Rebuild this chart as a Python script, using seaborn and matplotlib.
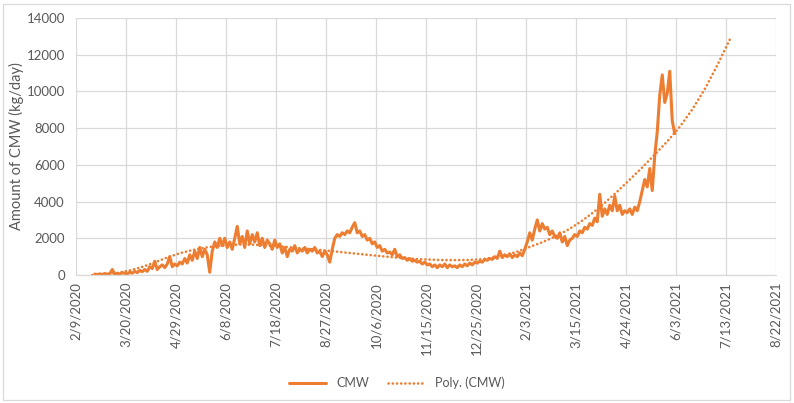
import numpy as np
import pandas as pd
import matplotlib
matplotlib.use("Agg")
import matplotlib.pyplot as plt
from matplotlib.patches import Rectangle
import seaborn as sns

# ---- data ----
cmw_start = "2020-02-24"
cmw_step_days = 2
cmw_values = [
    # Feb 24 - Mar 19, 2020
    50, 20, 60, 30, 80, 40, 60, 300, 50, 80, 60, 120, 90,
    # Mar 21 - Apr 28
    60, 150, 100, 200, 130, 250, 180, 300, 200, 450, 350, 750, 300, 450, 550, 400, 600, 1000, 450, 600,
    # Apr 30 - Jun 7
    500, 700, 600, 900, 650, 1100, 800, 1300, 900, 1500, 1000, 1400, 1100, 150, 1300, 1800, 1500, 2000, 1600, 2000,
    # Jun 9 - Jul 17
    1500, 1800, 1400, 2000, 2650, 1700, 2100, 1500, 2400, 1700, 2200, 1800, 2300, 1600, 2000, 1500, 1900, 1700, 1400, 1900,
    # Jul 19 - Aug 26
    1500, 1700, 1200, 1500, 1000, 1400, 1300, 1600, 1200, 1400, 1300, 1500, 1200, 1400, 1300, 1500, 1200, 1300, 1000, 1300,
    # Aug 28 - Oct 5
    1100, 700, 1400, 2000, 2200, 2100, 2300, 2200, 2400, 2300, 2600, 2850, 2300, 2400, 2100, 2200, 1900, 2000, 1700, 1800,
    # Oct 7 - Nov 14
    1500, 1600, 1300, 1400, 1200, 1250, 1100, 1400, 1000, 1100, 900, 950, 800, 900, 750, 800, 700, 750, 600, 700,
    # Nov 16 - Dec 24
    550, 600, 450, 550, 400, 550, 450, 600, 400, 550, 450, 500, 400, 550, 450, 600, 500, 650, 550, 700,
    # Dec 26 - Feb 2, 2021
    650, 750, 700, 850, 800, 900, 850, 1000, 900, 1300, 950, 1100, 1000, 1150, 950, 1100, 1000, 1200, 1050, 1400,
    # Feb 4 - Mar 14
    1800, 2300, 1900, 2500, 3000, 2400, 2800, 2500, 2600, 2200, 2400, 2100, 2000, 2300, 1800, 2100, 1600, 1900, 2000, 2200,
    # Mar 16 - Apr 23
    2100, 2400, 2300, 2600, 2500, 2800, 2700, 3100, 2900, 4400, 3200, 3600, 3300, 3800, 3500, 4300, 3500, 3800, 3300, 3500,
    # Apr 25 - Jun 2
    3400, 3600, 3300, 3700, 3500, 4000, 4600, 5200, 4800, 5800, 4600, 6500, 7800, 9800, 10900, 9400, 9900, 11100, 8400, 7700,
]

# Polynomial trendline (Poly. (CMW)), every 10 days
trend_start = "2020-02-22"
trend_step_days = 10
trend_values = [
    0, 45, 115, 250, 440, 685, 955, 1185, 1355, 1490, 1580, 1640, 1660, 1650,
    1615, 1560, 1500, 1440, 1380, 1315, 1240, 1170, 1100, 1035, 970, 915, 870,
    840, 815, 810, 815, 850, 935, 1075, 1275, 1525, 1785, 2080, 2440, 2865,
    3365, 3930, 4545, 5195, 5860, 6560, 7275, 8070, 9015, 10125, 11420, 12820,
]

x_ticks = pd.date_range("2020-02-09", "2021-08-22", freq="40D")
y_ticks = [0, 2000, 4000, 6000, 8000, 10000, 12000, 14000]

df = pd.DataFrame({
    "date": pd.date_range(cmw_start, periods=len(cmw_values), freq=f"{cmw_step_days}D"),
    "CMW": cmw_values,
})
trend = pd.DataFrame({
    "date": pd.date_range(trend_start, periods=len(trend_values), freq=f"{trend_step_days}D"),
    "trend": trend_values,
})

# ---- plot ----
sns.set_theme(style="whitegrid")
plt.rcParams["font.family"] = ["Lato", "DejaVu Sans"]

W, H = 794, 403
fig = plt.figure(figsize=(W / 100, H / 100), dpi=100)
ax = fig.add_axes([76 / W, 1 - 275 / H, 700 / W, 257 / H])

orange = "#ED7D31"
sns.lineplot(data=df, x="date", y="CMW", ax=ax, color=orange, linewidth=2.2,
             label="CMW", legend=False)
sns.lineplot(data=trend, x="date", y="trend", ax=ax, color=orange, linewidth=1.9,
             linestyle=(0, (0.05, 1.55)), dash_capstyle="round",
             label="Poly. (CMW)", legend=False)

ax.set_xlim(x_ticks[0], x_ticks[-1])
ax.set_ylim(0, 14000)
ax.set_xticks(x_ticks)
ax.set_xticklabels([f"{d.month}/{d.day}/{d.year}" for d in x_ticks], rotation=90)
ax.set_yticks(y_ticks)
ax.set_yticklabels([str(v) for v in y_ticks])
ax.tick_params(axis="both", length=0, labelsize=9.5, labelcolor="#595959")
ax.tick_params(axis="x", pad=5)
ax.tick_params(axis="y", pad=8)
ax.grid(True, color="#d9d9d9", linewidth=0.9)
ax.set_facecolor("white")
for s in ["top", "right", "left"]:
    ax.spines[s].set_visible(False)
ax.spines["bottom"].set_color("#d9d9d9")
ax.spines["bottom"].set_linewidth(0.9)

ax.set_xlabel("")
ax.set_ylabel("Amount of CMW (kg/day)", fontsize=10.5, color="#595959")
ax.yaxis.set_label_coords(-52 / 700, 0.5)

handles, labels = ax.get_legend_handles_labels()
fig.legend(handles, labels, loc="center", bbox_to_anchor=(397 / W, 1 - 383 / H),
           ncol=2, frameon=False, fontsize=9, handlelength=3.0,
           columnspacing=1.5, labelcolor="#595959")

fig.patches.append(Rectangle((3 / W, 3 / H), 787 / W, 396 / H, transform=fig.transFigure,
                             fill=False, edgecolor="#d9d9d9", linewidth=0.9))

fig.savefig("out.png", dpi=100)
